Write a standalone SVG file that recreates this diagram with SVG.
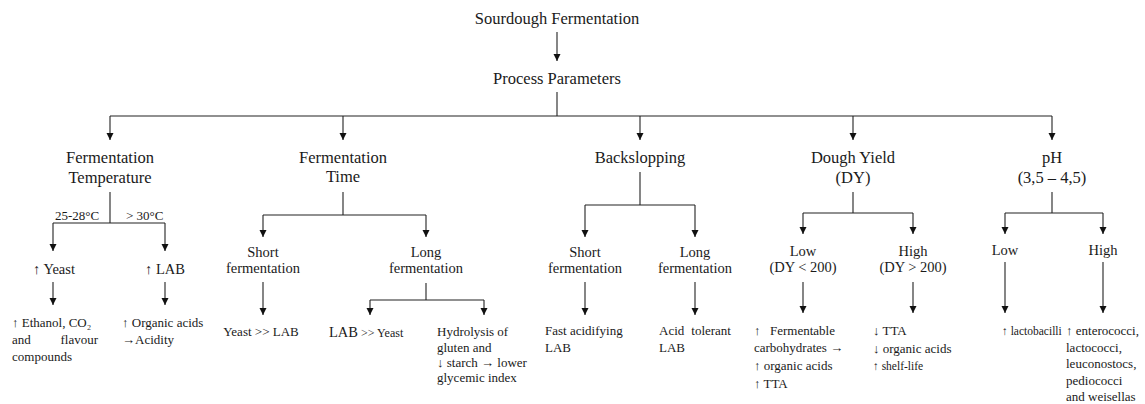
<svg xmlns="http://www.w3.org/2000/svg" width="1145" height="404" viewBox="0 0 1145 404">
<style>
text{font-family:"Liberation Serif","Times New Roman",serif;fill:#1a1a1a}
.m{font-size:16.5px;text-anchor:middle}
.s{font-size:14.5px;text-anchor:middle}
.t{font-size:13px}
.sm{font-size:11.5px}
.c{text-anchor:middle}
.e{text-anchor:end}
.ln{stroke:#222;stroke-width:1.1;fill:none}
.ar{stroke:#222;stroke-width:1.1;fill:none;marker-end:url(#ah)}
</style>
<defs>
<marker id="ah" markerUnits="userSpaceOnUse" markerWidth="8" markerHeight="8" refX="7" refY="3.5" orient="auto">
<path d="M0,0 L7,3.5 L0,7 z" fill="#111"/>
</marker>
</defs>
<rect width="1145" height="404" fill="#fff"/>
<g id="connectors">
<line class="ar" x1="557" y1="32" x2="557" y2="61"/>
<line class="ln" x1="557" y1="92" x2="557" y2="116"/>
<line class="ln" x1="110" y1="116" x2="1052" y2="116"/>
<line class="ar" x1="110" y1="116" x2="110" y2="140"/>
<line class="ar" x1="343" y1="116" x2="343" y2="140"/>
<line class="ar" x1="640" y1="116" x2="640" y2="140"/>
<line class="ar" x1="853" y1="116" x2="853" y2="140"/>
<line class="ar" x1="1052" y1="116" x2="1052" y2="140"/>
<line class="ln" x1="110" y1="192" x2="110" y2="223"/>
<line class="ln" x1="53" y1="223" x2="165" y2="223"/>
<line class="ar" x1="53" y1="223" x2="53" y2="251"/>
<line class="ar" x1="165" y1="223" x2="165" y2="251"/>
<line class="ar" x1="53" y1="282" x2="53" y2="305"/>
<line class="ar" x1="165" y1="282" x2="165" y2="305"/>
<line class="ln" x1="343" y1="192" x2="343" y2="215"/>
<line class="ln" x1="263" y1="215" x2="426" y2="215"/>
<line class="ar" x1="263" y1="215" x2="263" y2="237"/>
<line class="ar" x1="426" y1="215" x2="426" y2="237"/>
<line class="ar" x1="263" y1="282" x2="263" y2="315"/>
<line class="ln" x1="426" y1="283" x2="426" y2="300"/>
<line class="ln" x1="370" y1="300" x2="484" y2="300"/>
<line class="ar" x1="370" y1="300" x2="370" y2="315"/>
<line class="ar" x1="484" y1="300" x2="484" y2="315"/>
<line class="ln" x1="640" y1="172" x2="640" y2="205"/>
<line class="ln" x1="585" y1="205" x2="695" y2="205"/>
<line class="ar" x1="585" y1="205" x2="585" y2="237"/>
<line class="ar" x1="695" y1="205" x2="695" y2="237"/>
<line class="ar" x1="585" y1="282" x2="585" y2="315"/>
<line class="ar" x1="695" y1="282" x2="695" y2="315"/>
<line class="ln" x1="853" y1="192" x2="853" y2="213"/>
<line class="ln" x1="803" y1="213" x2="913" y2="213"/>
<line class="ar" x1="803" y1="213" x2="803" y2="234"/>
<line class="ar" x1="913" y1="213" x2="913" y2="234"/>
<line class="ar" x1="803" y1="282" x2="803" y2="313"/>
<line class="ar" x1="913" y1="282" x2="913" y2="313"/>
<line class="ln" x1="1052" y1="192" x2="1052" y2="213"/>
<line class="ln" x1="1005" y1="213" x2="1103" y2="213"/>
<line class="ar" x1="1005" y1="213" x2="1005" y2="234"/>
<line class="ar" x1="1103" y1="213" x2="1103" y2="234"/>
<line class="ar" x1="1005" y1="262" x2="1005" y2="313"/>
<line class="ar" x1="1103" y1="262" x2="1103" y2="313"/>
</g>
<g id="root"><text class="m" x="557" y="24">Sourdough Fermentation</text></g>
<g id="params"><text class="m" x="557" y="84">Process Parameters</text></g>
<g id="temp"><text class="m" x="110" y="163">Fermentation</text><text class="m" x="110" y="183">Temperature</text></g>
<g id="t-low"><text class="t" x="55" y="220">25-28°C</text></g>
<g id="t-high"><text class="t" x="126" y="220">&gt; 30°C</text></g>
<g id="yeast"><text class="s" x="54" y="274">↑ Yeast</text></g>
<g id="lab"><text class="s" x="165" y="274">↑ LAB</text></g>
<g id="yeast-out"><text class="t" x="12" y="327">↑  Ethanol, CO₂</text><text class="t" x="12" y="344">and</text><text class="t e" x="98" y="344">flavour</text><text class="t" x="12" y="361">compounds</text></g>
<g id="lab-out"><text class="t" x="122" y="327">↑ Organic acids</text><text class="t" x="122" y="344">→Acidity</text></g>
<g id="time"><text class="m" x="343" y="163">Fermentation</text><text class="m" x="343" y="182">Time</text></g>
<g id="time-short"><text class="s" x="263" y="257">Short</text><text class="s" x="263" y="273">fermentation</text></g>
<g id="time-long"><text class="s" x="426" y="257">Long</text><text class="s" x="426" y="273">fermentation</text></g>
<g id="ts-out"><text class="t c" x="261" y="336">Yeast &gt;&gt; LAB</text></g>
<g id="tl-a"><text class="t" x="329" y="337"><tspan font-size="14.5">LAB</tspan><tspan font-size="12"> &gt;&gt; Yeast</tspan></text></g>
<g id="tl-b"><text class="t" x="437" y="336">Hydrolysis of</text><text class="t" x="437" y="352">gluten and</text><text class="t" x="437" y="367">↓ starch → lower</text><text class="t" x="437" y="382">glycemic index</text></g>
<g id="backslopping"><text class="m" x="640" y="163">Backslopping</text></g>
<g id="bs-short"><text class="s" x="585" y="257">Short</text><text class="s" x="585" y="273">fermentation</text></g>
<g id="bs-long"><text class="s" x="695" y="257">Long</text><text class="s" x="695" y="273">fermentation</text></g>
<g id="bs-short-out"><text class="t" x="545" y="335">Fast acidifying</text><text class="t" x="545" y="352">LAB</text></g>
<g id="bs-long-out"><text class="t" x="659" y="335">Acid</text><text class="t e" x="731" y="335">tolerant</text><text class="t" x="659" y="352">LAB</text></g>
<g id="dy"><text class="m" x="853" y="163">Dough Yield</text><text class="m" x="853" y="183">(DY)</text></g>
<g id="dy-low"><text class="s" x="803" y="256">Low</text><text class="s" x="803" y="272">(DY &lt; 200)</text></g>
<g id="dy-high"><text class="s" x="913" y="256">High</text><text class="s" x="913" y="272">(DY &gt; 200)</text></g>
<g id="dy-low-out"><text class="t" x="754" y="335">↑</text><text class="t e" x="835" y="335">Fermentable</text><text class="t" x="754" y="352">carbohydrates →</text><text class="t" x="754" y="370">↑ organic acids</text><text class="t" x="754" y="388">↑ TTA</text></g>
<g id="dy-high-out"><text class="t" x="873" y="335">↓ TTA</text><text class="t" x="873" y="353">↓ organic acids</text><text class="sm" x="873" y="370">↑ shelf-life</text></g>
<g id="ph"><text class="m" x="1052" y="163">pH</text><text class="m" x="1052" y="183">(3,5 – 4,5)</text></g>
<g id="ph-low"><text class="s" x="1005" y="255">Low</text></g>
<g id="ph-high"><text class="s" x="1103" y="255">High</text></g>
<g id="ph-low-out"><text class="sm" x="1002" y="335">↑ lactobacilli</text></g>
<g id="ph-high-out"><text class="t" x="1066" y="335">↑ enterococci,</text><text class="t" x="1066" y="352">lactococci,</text><text class="t" x="1066" y="368">leuconostocs,</text><text class="t" x="1066" y="385">pediococci</text><text class="t" x="1066" y="401">and weisellas</text></g>
</svg>
